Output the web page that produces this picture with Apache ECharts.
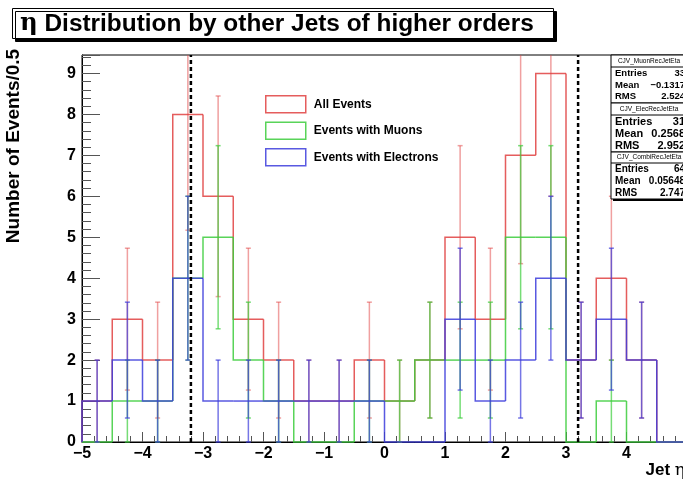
<!DOCTYPE html>
<html>
<head>
<meta charset="utf-8">
<script src="https://cdn.jsdelivr.net/npm/echarts@6/dist/echarts.min.js"></script>
<style>
  html, body { margin: 0; padding: 0; background: #ffffff; }
  #chart { width: 683px; height: 484px; }
</style>
</head>
<body>
<div id="chart"></div>
<script>
// Lower edges of the eta bins (bin width 0.5)
const binLow = [-5, -4.5, -4, -3.5, -3, -2.5, -2, -1.5, -1, -0.5, 0, 0.5, 1, 1.5, 2, 2.5, 3, 3.5, 4, 4.5];
const binWidth = 0.5;

// Jet counts per bin
const allEvents  = [1, 3, 2, 8, 6, 3, 2, 1, 1, 2, 1, 2, 5, 3, 7, 9, 2, 4, 2, 0];
const muonEvents = [0, 1, 1, 4, 5, 2, 1, 0, 0, 1, 1, 2, 2, 2, 5, 5, 0, 1, 0, 0];
const elecEvents = [1, 2, 1, 4, 1, 1, 1, 1, 1, 1, 0, 0, 3, 1, 2, 4, 2, 3, 2, 0];

const seriesNames = ['All Events', 'Events with Muons', 'Events with Electrons'];

// Eta cut positions (dashed lines)
const cutPositions = [-3.2, 3.2];

// Statistics boxes
const statsTitles  = ['CJV_MuonRecJetEta', 'CJV_ElecRecJetEta', 'CJV_CombiRecJetEta'];
const statsEntries = ['33', '31', '64'];
const statsMean    = ['\u22120.1317', '0.2568', '0.05648'];
const statsRms     = ['2.524', '2.952', '2.747'];

const X_MIN = -5, X_MAX = 5, Y_MAX = 9.45;

const FONT = '"Liberation Sans", Arial, Helvetica, sans-serif';
const SERIF = '"DejaVu Serif", "Liberation Serif", serif';
const lineColors = ['rgba(225, 65, 65, 0.85)', 'rgba(60, 205, 60, 0.85)', 'rgba(60, 60, 220, 0.85)'];
const errColors  = ['rgba(225, 65, 65, 0.5)', 'rgba(60, 205, 60, 0.7)', 'rgba(60, 60, 220, 0.7)'];

function histData(counts) {
  return counts.map((v, i) => [binLow[i], binLow[i] + binWidth, v, i === 0 ? 0 : counts[i - 1]]);
}

function histRenderer(idx) {
  return function (params, api) {
    const lo = api.value(0), hi = api.value(1), v = api.value(2), prev = api.value(3);
    const pPrev = api.coord([lo, prev]);
    const pLo = api.coord([lo, v]);
    const pHi = api.coord([hi, v]);
    const children = [{
      type: 'polyline',
      shape: { points: [pPrev, pLo, pHi] },
      style: { stroke: lineColors[idx], lineWidth: 1.5, fill: null }
    }];
    if (v > 0) {
      const e = Math.sqrt(v);
      const c = (lo + hi) / 2;
      const clipped = v + e > Y_MAX;
      const pBot = api.coord([c, v - e]);
      const pTop = api.coord([c, clipped ? Y_MAX : v + e]);
      const es = { stroke: errColors[idx], lineWidth: 1.5 };
      children.push({ type: 'line', shape: { x1: pBot[0], y1: pBot[1], x2: pTop[0], y2: pTop[1] }, style: es });
      children.push({ type: 'line', shape: { x1: pBot[0] - 2.5, y1: pBot[1], x2: pBot[0] + 2.5, y2: pBot[1] }, style: es });
      if (!clipped) {
        children.push({ type: 'line', shape: { x1: pTop[0] - 2.5, y1: pTop[1], x2: pTop[0] + 2.5, y2: pTop[1] }, style: es });
      }
    }
    return { type: 'group', children: children };
  };
}

function cutRenderer(params, api) {
  const x = api.value(0);
  const p0 = api.coord([x, 0]);
  const p1 = api.coord([x, Y_MAX]);
  return {
    type: 'line',
    shape: { x1: p0[0], y1: p0[1], x2: p1[0], y2: p1[1] },
    style: { stroke: '#000', lineWidth: 2.5, lineDash: [4, 3] }
  };
}

function minusFmt(v) {
  return v < 0 ? '\u2212' + Math.abs(v) : String(v);
}

// Statistics panels in the upper right corner
function statsGraphics() {
  const els = [];
  const left = 611, boxW = 90;
  const layout = [
    { top: 55,  bottom: 103, head: 61,  sep: 67,  rows: [73.5, 85, 96.5], size: 9.5 },
    { top: 103, bottom: 152, head: 109, sep: 115, rows: [122, 134, 146], size: 11 },
    { top: 152, bottom: 199, head: 157.5, sep: 163, rows: [169.5, 181.5, 193.5], size: 10 }
  ];
  layout.forEach((b, i) => {
    els.push({ type: 'rect', shape: { x: left + 2, y: b.top + 2, width: boxW, height: b.bottom - b.top }, style: { fill: '#000' }, z: 100 });
    els.push({ type: 'rect', shape: { x: left, y: b.top, width: boxW, height: b.bottom - b.top }, style: { fill: '#fff', stroke: '#000', lineWidth: 1 }, z: 101 });
    els.push({ type: 'line', shape: { x1: left, y1: b.sep, x2: left + boxW, y2: b.sep }, style: { stroke: '#000', lineWidth: 1 }, z: 102 });
    els.push({ type: 'text', x: 649, y: b.head, z: 103, style: { text: statsTitles[i], font: '6.5px ' + FONT, fill: '#000', align: 'center', verticalAlign: 'middle' } });
    const labels = ['Entries', 'Mean', 'RMS'];
    const vals = [statsEntries[i], statsMean[i], statsRms[i]];
    labels.forEach((lab, k) => {
      els.push({ type: 'text', x: 615, y: b.rows[k], z: 103, style: { text: lab, font: 'bold ' + b.size + 'px ' + FONT, fill: '#000', align: 'left', verticalAlign: 'middle' } });
      els.push({ type: 'text', x: 685, y: b.rows[k], z: 103, style: { text: vals[k], font: 'bold ' + b.size + 'px ' + FONT, fill: '#000', align: 'right', verticalAlign: 'middle' } });
    });
  });
  return els;
}

const chart = echarts.init(document.getElementById('chart'), null, { renderer: 'canvas' });

const tickStyle = { color: '#555', width: 1 };

const option = {
  animation: false,
  backgroundColor: '#fff',
  title: {
    text: '{eta|\u03b7}{t| Distribution by other Jets of higher orders}',
    left: 12,
    top: 7,
    padding: [4, 20, 3, 8],
    backgroundColor: '#fff',
    borderColor: '#000',
    borderWidth: 1,
    shadowColor: '#000',
    shadowOffsetX: 3,
    shadowOffsetY: 3,
    shadowBlur: 0.1,
    textStyle: {
      rich: {
        eta: { fontFamily: SERIF, fontSize: 24.4, color: '#000', lineHeight: 26 },
        t: { fontFamily: FONT, fontWeight: 'bold', fontSize: 24.4, color: '#000', lineHeight: 26 }
      }
    }
  },
  legend: {
    orient: 'vertical',
    left: 265,
    top: 95,
    padding: 0,
    itemWidth: 40,
    itemHeight: 17,
    itemGap: 8,
    icon: 'rect',
    selectedMode: false,
    textStyle: { fontFamily: FONT, fontWeight: 'bold', fontSize: 12, color: '#000', padding: [0, 0, 0, 3] },
    data: seriesNames.map((n, i) => ({
      name: n,
      itemStyle: { color: '#fff', borderColor: lineColors[i], borderWidth: 1.5 }
    }))
  },
  grid: {
    left: 82,
    top: 55,
    right: -4,
    bottom: 42,
    show: true,
    borderColor: '#000',
    borderWidth: 1,
    backgroundColor: 'transparent',
    outerBoundsMode: 'none'
  },
  xAxis: [{
    type: 'value',
    min: X_MIN,
    max: X_MAX,
    interval: 1,
    axisLine: { show: true, onZero: false, lineStyle: { color: '#000', width: 1 } },
    axisTick: { show: true, inside: true, length: 10, lineStyle: tickStyle },
    minorTick: { show: true, splitNumber: 5, length: 6, lineStyle: tickStyle },
    splitLine: { show: false },
    axisLabel: {
      show: true,
      formatter: minusFmt,
      fontFamily: FONT,
      fontWeight: 'bold',
      fontSize: 16,
      color: '#000',
      margin: 4,
      showMinLabel: true,
      showMaxLabel: true,
      hideOverlap: false
    },
    name: '{j|Jet }{e|\u03b7}',
    nameLocation: 'end',
    nameGap: 0,
    nameTextStyle: {
      align: 'right',
      verticalAlign: 'top',
      padding: [20, 2, 0, 0],
      rich: {
        j: { fontFamily: FONT, fontWeight: 'bold', fontSize: 17, color: '#000' },
        e: { fontFamily: SERIF, fontSize: 17, color: '#000' }
      }
    }
  }],
  yAxis: [{
    type: 'value',
    min: 0,
    max: Y_MAX,
    interval: 1,
    position: 'left',
    axisLine: { show: true, onZero: false, lineStyle: { color: '#000', width: 1 } },
    axisTick: { show: true, inside: true, length: 18, lineStyle: tickStyle },
    splitLine: { show: false },
    axisLabel: {
      formatter: v => (Math.abs(v - Math.round(v)) < 1e-6 ? String(Math.round(v)) : ''),
      fontFamily: FONT,
      fontWeight: 'bold',
      fontSize: 16,
      color: '#000',
      margin: 6,
      showMaxLabel: true,
      hideOverlap: false
    }
  }, {
    type: 'value',
    min: 0,
    max: Y_MAX,
    interval: 0.2,
    position: 'left',
    offset: 0,
    axisLine: { show: false, onZero: false },
    axisTick: { show: true, inside: true, length: 9, lineStyle: tickStyle },
    splitLine: { show: false },
    axisLabel: { show: false }
  }],
  graphic: [
    {
      type: 'text',
      x: 14,
      y: 146,
      rotation: Math.PI / 2,
      style: {
        text: 'Number of Events/0.5',
        font: 'bold 19px ' + FONT,
        fill: '#000',
        align: 'center',
        verticalAlign: 'middle'
      }
    }
  ].concat(statsGraphics()),
  series: [
    {
      name: seriesNames[0],
      type: 'custom',
      renderItem: histRenderer(0),
      itemStyle: { color: lineColors[0] },
      encode: { x: [0, 1], y: [2, 3] },
      data: histData(allEvents),
      z: 2
    },
    {
      name: seriesNames[1],
      type: 'custom',
      renderItem: histRenderer(1),
      itemStyle: { color: lineColors[1] },
      encode: { x: [0, 1], y: [2, 3] },
      data: histData(muonEvents),
      z: 3
    },
    {
      name: seriesNames[2],
      type: 'custom',
      renderItem: histRenderer(2),
      itemStyle: { color: lineColors[2] },
      encode: { x: [0, 1], y: [2, 3] },
      data: histData(elecEvents),
      z: 4
    },
    {
      name: 'eta cuts',
      type: 'custom',
      renderItem: cutRenderer,
      encode: { x: 0 },
      data: cutPositions.map(x => [x]),
      z: 5
    }
  ]
};

chart.setOption(option);
</script>
</body>
</html>
